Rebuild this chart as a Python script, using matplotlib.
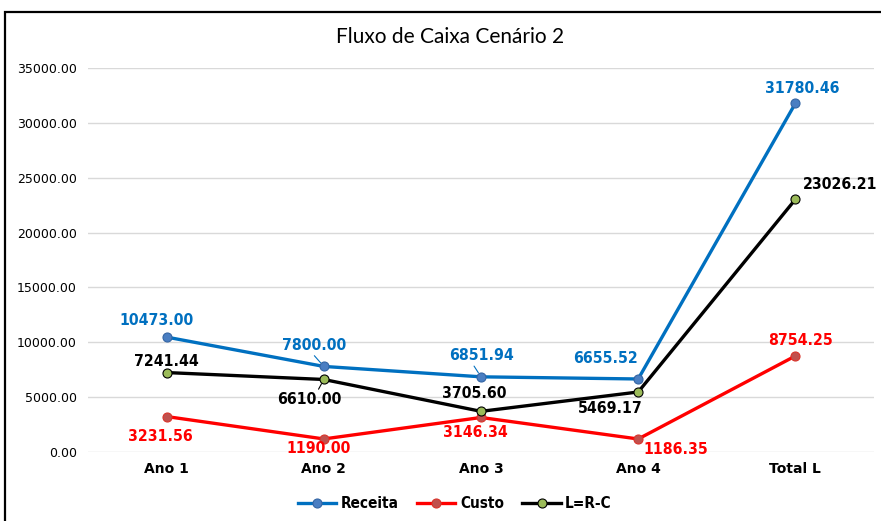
import matplotlib
matplotlib.use("Agg")
import matplotlib.pyplot as plt
from matplotlib.patches import Rectangle

categories = ["Ano 1", "Ano 2", "Ano 3", "Ano 4", "Total L"]
receita = [10473.00, 7800.00, 6851.94, 6655.52, 31780.46]
custo = [3231.56, 1190.00, 3146.34, 1186.35, 8754.25]
lucro = [7241.44, 6610.00, 3705.60, 5469.17, 23026.21]
yticks = [0, 5000, 10000, 15000, 20000, 25000, 30000, 35000]

W, H = 881, 521
fig = plt.figure(figsize=(W / 100, H / 100), dpi=100)
ax = fig.add_axes([88 / W, (H - 452) / H, (874 - 88) / W, (452 - 68) / H])

x = [i + 0.5 for i in range(len(categories))]

series = [
    ("Receita", receita, "#0070C0", "#4A7EC2", "#3465A4"),
    ("Custo", custo, "#FF0000", "#C0504D", "#D9342B"),
    ("L=R-C", lucro, "#000000", "#9BBB59", "#000000"),
]
for name, vals, lc, mf, me in series:
    ax.plot(x, vals, color=lc, lw=2.4, marker="o", ms=6.5,
            markerfacecolor=mf, markeredgecolor=me, markeredgewidth=0.8,
            label=name, zorder=3)

ax.set_xlim(0, 5)
ax.set_ylim(0, 35000)
ax.set_yticks(yticks)
ax.set_yticklabels([f"{v:.2f}" for v in yticks], fontsize=9, family="DejaVu Sans")
ax.set_xticks(x)
ax.set_xticklabels(categories, fontsize=10, fontweight="bold")
ax.tick_params(axis="both", length=0, pad=8)
ax.tick_params(axis="x", pad=7)
ax.grid(axis="y", color="#D9D9D9", lw=1)
ax.set_axisbelow(True)
for s in ax.spines.values():
    s.set_visible(False)

lbl_font = dict(fontsize=11.3, fontweight="bold", family="DejaVu Sans", fontstretch="condensed")

# offsets in pixels (dx, dy) relative to point, dy positive = up
offsets = {
    0: [(-10, 17), (-10, 21), (0, 21), (-33, 20), (7, 15)],
    1: [(-6, -20), (-5, -10), (-6, -15), (38, -11), (5, 15)],
    2: [(0, 11), (-14, -20), (-7, 18), (-28, -17), (45, 15)],
}
leaders = {(0, 1): (0.45, 0.1), (0, 2): (0.35, 0.1), (2, 1): (0.6, 0.9)}
colors = ["#0070C0", "#FF0000", "#000000"]
for si, (name, vals, lc, mf, me) in enumerate(series):
    for i, v in enumerate(vals):
        dx, dy = offsets[si][i]
        kw = {}
        if (si, i) in leaders:
            kw["arrowprops"] = dict(arrowstyle="-", color=colors[si], lw=0.8,
                                    shrinkA=0, shrinkB=3.5, relpos=leaders[(si, i)])
        ax.annotate(f"{v:.2f}", (x[i], v), xytext=(dx, dy), textcoords="offset pixels",
                    ha="center", va="center", color=colors[si], zorder=4, **lbl_font, **kw)

fig.text(450 / W, 1 - 37 / H, "Fluxo de Caixa Cenário 2", ha="center", va="center",
         fontsize=15, family="Lato")

leg = fig.legend(loc="center", bbox_to_anchor=(455 / W, 1 - 504 / H), ncol=3, frameon=False,
                 prop=dict(size=11, weight="bold", family="DejaVu Sans", stretch="condensed"),
                 handlelength=2.5, columnspacing=1.2, handletextpad=0.3)

fig.patches.append(Rectangle((5 / W, -0.1), 1.2, 1.1 + (H - 12) / H - 1 + 0.0,
                             transform=fig.transFigure, fill=False, ec="black", lw=1.6))
fig.savefig("out.png", dpi=100)
